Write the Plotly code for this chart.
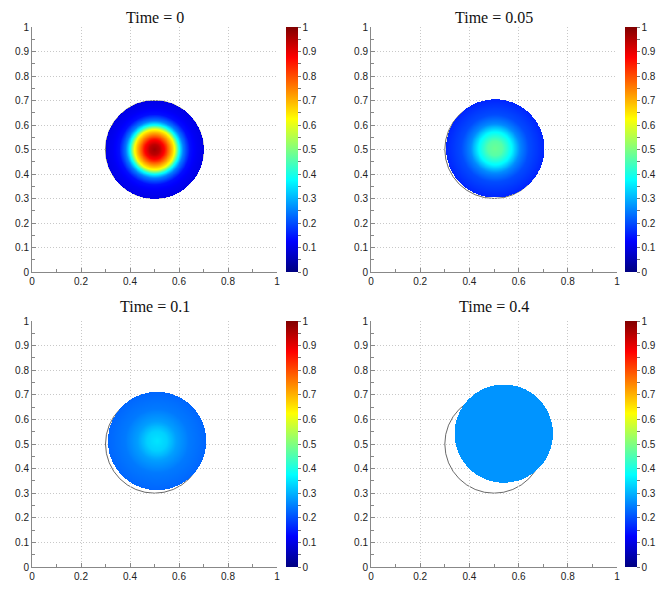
import numpy as np
import plotly.graph_objects as go

# ---- data ----
times = ["0", "0.05", "0.1", "0.4"]
center_x = [0.500, 0.505, 0.510, 0.540]
center_y = [0.500, 0.505, 0.512, 0.542]
radius = [0.20, 0.20, 0.20, 0.20]
# radial profiles of the colour value (distance from disc centre -> value)
prof_r_t0 = [0.0, 0.02, 0.04, 0.06, 0.082, 0.098, 0.116, 0.143, 0.17, 0.20]
prof_v_t0 = [0.97, 0.94, 0.87, 0.75, 0.62, 0.40, 0.25, 0.14, 0.115, 0.10]
prof_r_t1 = [0.0, 0.03, 0.068, 0.10, 0.136, 0.20]
prof_v_t1 = [0.48, 0.46, 0.37, 0.26, 0.20, 0.16]
prof_r_t2 = [0.0, 0.04, 0.08, 0.13, 0.20]
prof_v_t2 = [0.35, 0.33, 0.28, 0.245, 0.225]
prof_r_t3 = [0.0, 0.20]
prof_v_t3 = [0.27, 0.27]
init_cx, init_cy, init_r = 0.5, 0.5, 0.2
tick_vals_cb = [round(0.05 * i, 2) for i in range(21)]
tick_text_cb = [("%g" % v) if i % 2 == 0 else "" for i, v in enumerate(tick_vals_cb)]

profiles = [(prof_r_t0, prof_v_t0), (prof_r_t1, prof_v_t1),
            (prof_r_t2, prof_v_t2), (prof_r_t3, prof_v_t3)]

jet = [[0.0, "rgb(0,0,128)"], [0.125, "rgb(0,0,255)"], [0.375, "rgb(0,255,255)"],
       [0.625, "rgb(255,255,0)"], [0.875, "rgb(255,0,0)"], [1.0, "rgb(128,0,0)"]]

OFF = 8  # default page body margin
W, H = 665 - OFF, 590 - OFF
# panel pixel boxes in window coords: (left, right, top, bottom)
boxes = [(32, 277, 27, 272), (371, 617, 27, 272), (32, 277, 321, 567), (371, 617, 321, 567)]
cbar_left = [286, 625, 286, 625]

fig = go.Figure()
shapes = []
annotations = []
tickfont = dict(family="Liberation Sans", size=10, color="#222")
for k in range(4):
    l, r, t, b = [v - OFF for v in boxes[k]]
    xd = [l / W, r / W]
    yd = [1 - b / H, 1 - t / H]
    ax = "" if k == 0 else str(k + 1)
    gx = np.linspace(center_x[k] - radius[k] - 0.005, center_x[k] + radius[k] + 0.005, 421)
    gy = np.linspace(center_y[k] - radius[k] - 0.005, center_y[k] + radius[k] + 0.005, 421)
    X, Y = np.meshgrid(gx, gy)
    d = np.sqrt((X - center_x[k]) ** 2 + (Y - center_y[k]) ** 2)
    pr, pv = profiles[k]
    z = np.interp(d, pr, pv)
    z = np.where(d <= radius[k], np.round(z, 3), np.nan)
    fig.add_trace(go.Heatmap(
        x=np.round(gx, 5), y=np.round(gy, 5), z=z, xaxis="x" + ax, yaxis="y" + ax,
        colorscale=jet, zmin=0, zmax=1, hoverongaps=False,
        colorbar=dict(x=(cbar_left[k] - OFF) / W, xanchor="left", y=(yd[0] + yd[1]) / 2,
                      yanchor="middle", len=b - t, lenmode="pixels", thickness=12,
                      thicknessmode="pixels", outlinewidth=0, xpad=0, ypad=0,
                      ticks="outside", ticklen=3, tickcolor="#777",
                      tickvals=tick_vals_cb, ticktext=tick_text_cb, tickfont=tickfont),
    ))
    common = dict(range=[0, 1], tick0=0, showline=True, linecolor="#888", linewidth=1,
                  ticks="inside", ticklen=4, tickcolor="#888", showgrid=True,
                  gridcolor="#c8c8c8", griddash="1px,2px", gridwidth=1, zeroline=False,
                  mirror=False, automargin=False, tickfont=tickfont)
    fig.update_layout(**{
        "xaxis" + ax: dict(domain=xd, anchor="y" + ax, dtick=0.2,
                           minor=dict(dtick=0.1, ticks="inside", ticklen=3, tickcolor="#888",
                                      showgrid=False), **common),
        "yaxis" + ax: dict(domain=yd, anchor="x" + ax, dtick=0.1,
                           minor=dict(dtick=0.05, ticks="inside", ticklen=3, tickcolor="#888",
                                      showgrid=False), **common),
    })
    shapes.append(dict(type="circle", xref="x" + ax, yref="y" + ax, layer="below",
                       x0=init_cx - init_r, x1=init_cx + init_r,
                       y0=init_cy - init_r, y1=init_cy + init_r,
                       line=dict(color="#444", width=0.8)))
    title_font = dict(family="Liberation Serif", size=16, color="#111")
    if k < 2:
        annotations.append(dict(text="Time = " + times[k], xref="paper", yref="paper",
                                x=(xd[0] + xd[1]) / 2, y=1, xanchor="center",
                                yanchor="top", showarrow=False, borderpad=0, font=title_font))
    else:
        annotations.append(dict(text="Time = " + times[k], xref="paper", yref="paper",
                                x=(xd[0] + xd[1]) / 2, y=yd[1], yshift=4, xanchor="center",
                                yanchor="bottom", showarrow=False, font=title_font))

fig.update_layout(width=W, height=H, margin=dict(l=0, r=0, t=0, b=0, autoexpand=False),
                  paper_bgcolor="white", plot_bgcolor="white", showlegend=False,
                  shapes=shapes, annotations=annotations)
fig.write_html("out.html")
